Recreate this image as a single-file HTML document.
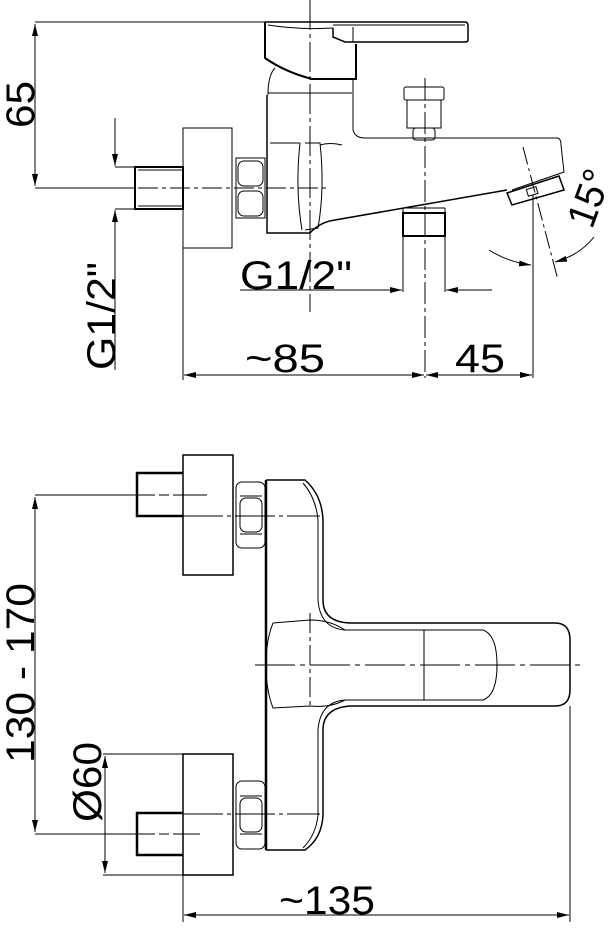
<!DOCTYPE html>
<html><head><style>
html,body{margin:0;padding:0;background:#fff;}
svg{display:block;}
text{font-family:"Liberation Sans",sans-serif;fill:#000;}
</style></head><body>
<svg width="612" height="929" viewBox="0 0 612 929" xmlns="http://www.w3.org/2000/svg">
<defs>
<marker id="a" viewBox="0 0 12 6" refX="12" refY="3" markerWidth="12" markerHeight="6" orient="auto-start-reverse" markerUnits="userSpaceOnUse"><path d="M0,0 L12,3 L0,6z" fill="#000"/></marker>
</defs>
<g fill="none" stroke="#000" stroke-width="1">
<line x1="35" y1="22" x2="265" y2="22"/>
<line x1="35" y1="188" x2="135" y2="188"/>
<line x1="35" y1="24" x2="35" y2="186" marker-start="url(#a)" marker-end="url(#a)"/>
<line x1="115" y1="118" x2="115" y2="166" marker-end="url(#a)"/>
<line x1="115" y1="167" x2="135" y2="167"/>
<line x1="115" y1="209" x2="135" y2="209"/>
<line x1="115" y1="370" x2="115" y2="210" marker-end="url(#a)"/>
<line x1="310" y1="0" x2="310" y2="312" stroke-dasharray="30,4,4,4"/>
<line x1="425" y1="78" x2="425" y2="378" stroke-dasharray="22,4,4,4"/>
<line x1="138" y1="188" x2="330" y2="188" stroke-dasharray="20,4,4,4"/>
<rect x="135" y="167" width="48" height="42" stroke-width="2"/>
<line x1="138" y1="170" x2="183" y2="170"/><line x1="138" y1="206" x2="183" y2="206"/>
<rect x="183" y="128" width="49" height="120"/>
<rect x="236" y="158" width="29" height="60"/>
<rect x="238" y="161" width="25" height="25" rx="6"/>
<rect x="238" y="191" width="25" height="25" rx="6"/>
<path d="M267,95 L267,233 L310,233 Q320,222 335,220 L507,190" stroke-width="1.5"/>
<path d="M268,95 Q268,75 275,68"/>
<line x1="268" y1="93" x2="352" y2="93"/>
<path d="M353,80 L353,130 Q355,138 365,138 L558,138 Q561,139 561,145 L564,172 L512,190"/>
<path d="M300,143 Q295,188 302,230" />
<path d="M305,143 L320,143 Q325,188 318,228 L305,230"/>
<path d="M270,143 L300,143"/>
<path d="M320,145 Q330,142 342,145"/>
<path d="M507,193 L559,176 L564,190 L512,205 Z" stroke-width="1.5"/>
<rect x="527" y="188" width="10" height="7" transform="rotate(-17 532 191)"/>
<path d="M265,22 L265,58 Q285,72 312,79 L356,79 L356,44" stroke-width="2"/>
<path d="M265,22 L465,22 Q468,22 468,26 L468,40 Q468,42 465,42 L345,42 L333,37 L333,28" stroke-width="1.5"/>
<line x1="333" y1="25" x2="465" y2="25"/>
<line x1="353" y1="27" x2="353" y2="42"/>
<path d="M268,25 Q300,30 333,28"/>
<rect x="404" y="87" width="40" height="13" rx="2"/>
<rect x="407" y="100" width="34" height="28"/>
<rect x="413" y="128" width="22" height="12" rx="3"/>
<rect x="403" y="213" width="42" height="23" stroke-width="2"/>
<line x1="405" y1="208" x2="445" y2="208"/>
<line x1="403" y1="208" x2="403" y2="213"/><line x1="445" y1="208" x2="445" y2="213"/>
<line x1="403" y1="236" x2="403" y2="292"/>
<line x1="445" y1="236" x2="445" y2="292"/>
<line x1="240" y1="290" x2="402" y2="290" marker-end="url(#a)"/>
<line x1="492" y1="290" x2="446" y2="290" marker-end="url(#a)"/>
<line x1="183" y1="248" x2="183" y2="380"/>
<line x1="533" y1="195" x2="533" y2="378"/>
<line x1="184" y1="375" x2="424" y2="375" marker-start="url(#a)" marker-end="url(#a)"/>
<line x1="426" y1="375" x2="532" y2="375" marker-start="url(#a)" marker-end="url(#a)"/>
<line x1="523" y1="147" x2="558" y2="280" stroke-dasharray="18,4,3,4"/>
<path d="M489,250 Q508,262 531,265" marker-end="url(#a)"/>
<path d="M594,237 Q580,255 555,262" marker-end="url(#a)"/>

<line x1="35" y1="495" x2="207" y2="495" stroke-dasharray="120,4,10,4"/>
<line x1="35" y1="834" x2="200" y2="834" stroke-dasharray="120,4,10,4"/>
<line x1="35" y1="497" x2="35" y2="832" marker-start="url(#a)" marker-end="url(#a)"/>
<line x1="183" y1="516" x2="320" y2="516" stroke-dasharray="40,4,4,4"/>
<line x1="183" y1="814" x2="320" y2="814" stroke-dasharray="40,4,4,4"/>
<line x1="255" y1="665" x2="580" y2="665" stroke-dasharray="40,5,5,5"/>
<line x1="310" y1="613" x2="310" y2="707" stroke-dasharray="20,4,4,4"/>
<path d="M183,473 L137,473 L137,516 L183,516" stroke-width="2.5"/>
<path d="M183,813 L137,813 L137,855 L183,855" stroke-width="2.5"/>
<rect x="183" y="455" width="50" height="120" stroke-width="1.5"/>
<rect x="183" y="754" width="50" height="121" stroke-width="1.5"/>
<rect x="236" y="482" width="29" height="66" rx="6"/>
<line x1="240" y1="496" x2="262" y2="496"/><line x1="240" y1="534" x2="262" y2="534"/>
<rect x="240" y="498" width="22" height="34" rx="6"/>
<rect x="236" y="781" width="29" height="68" rx="6"/>
<line x1="240" y1="796" x2="262" y2="796"/><line x1="240" y1="834" x2="262" y2="834"/>
<rect x="240" y="798" width="22" height="34" rx="6"/>
<line x1="266" y1="480" x2="266" y2="850" stroke-width="2.5"/>
<path d="M266,480 L305,480 Q322,495 323,520 L323,600 Q323,622 350,623 L555,623 Q570,623 570,640 L570,690 Q570,706 555,706 L350,706 Q323,708 323,730 L323,815 Q322,838 305,850 L266,850" stroke-width="1.5"/>
<path d="M303,483 Q316,498 318,520 L318,600 Q320,628 345,630 L483,630 Q497,635 497,665 Q497,695 483,700 L345,700 Q320,702 318,730 L318,815 Q316,835 303,848"/>
<path d="M273,623 Q266,640 266,665 Q266,690 273,708 L310,706 Q330,708 345,700"/>
<path d="M273,623 L310,620 Q330,620 345,630"/>
<line x1="424" y1="630" x2="424" y2="700"/>
<line x1="103" y1="754" x2="183" y2="754"/>
<line x1="103" y1="875" x2="183" y2="875"/>
<line x1="105" y1="756" x2="105" y2="873" marker-start="url(#a)" marker-end="url(#a)"/>
<line x1="183" y1="875" x2="183" y2="922"/>
<line x1="570" y1="706" x2="570" y2="922"/>
<line x1="184" y1="915" x2="569" y2="915" marker-start="url(#a)" marker-end="url(#a)"/>
</g>
<g font-size="40">
<text transform="translate(34,128) rotate(-90)" textLength="47" lengthAdjust="spacingAndGlyphs">65</text>
<text transform="translate(115,370) rotate(-90)" textLength="108" lengthAdjust="spacingAndGlyphs">G1/2"</text>
<text x="240" y="289" textLength="112" lengthAdjust="spacingAndGlyphs">G1/2"</text>
<text x="245" y="372" textLength="80" lengthAdjust="spacingAndGlyphs">~85</text>
<text x="455" y="372" textLength="50" lengthAdjust="spacingAndGlyphs">45</text>
<text transform="translate(592,230) rotate(-70)" textLength="58" lengthAdjust="spacingAndGlyphs">15°</text>
<text transform="translate(34,763) rotate(-90)" textLength="180" lengthAdjust="spacingAndGlyphs">130 - 170</text>
<text transform="translate(101,822) rotate(-90)" textLength="80" lengthAdjust="spacingAndGlyphs">Ø60</text>
<text x="279" y="914" textLength="96" lengthAdjust="spacingAndGlyphs">~135</text>
</g>
</svg>
</body></html>
